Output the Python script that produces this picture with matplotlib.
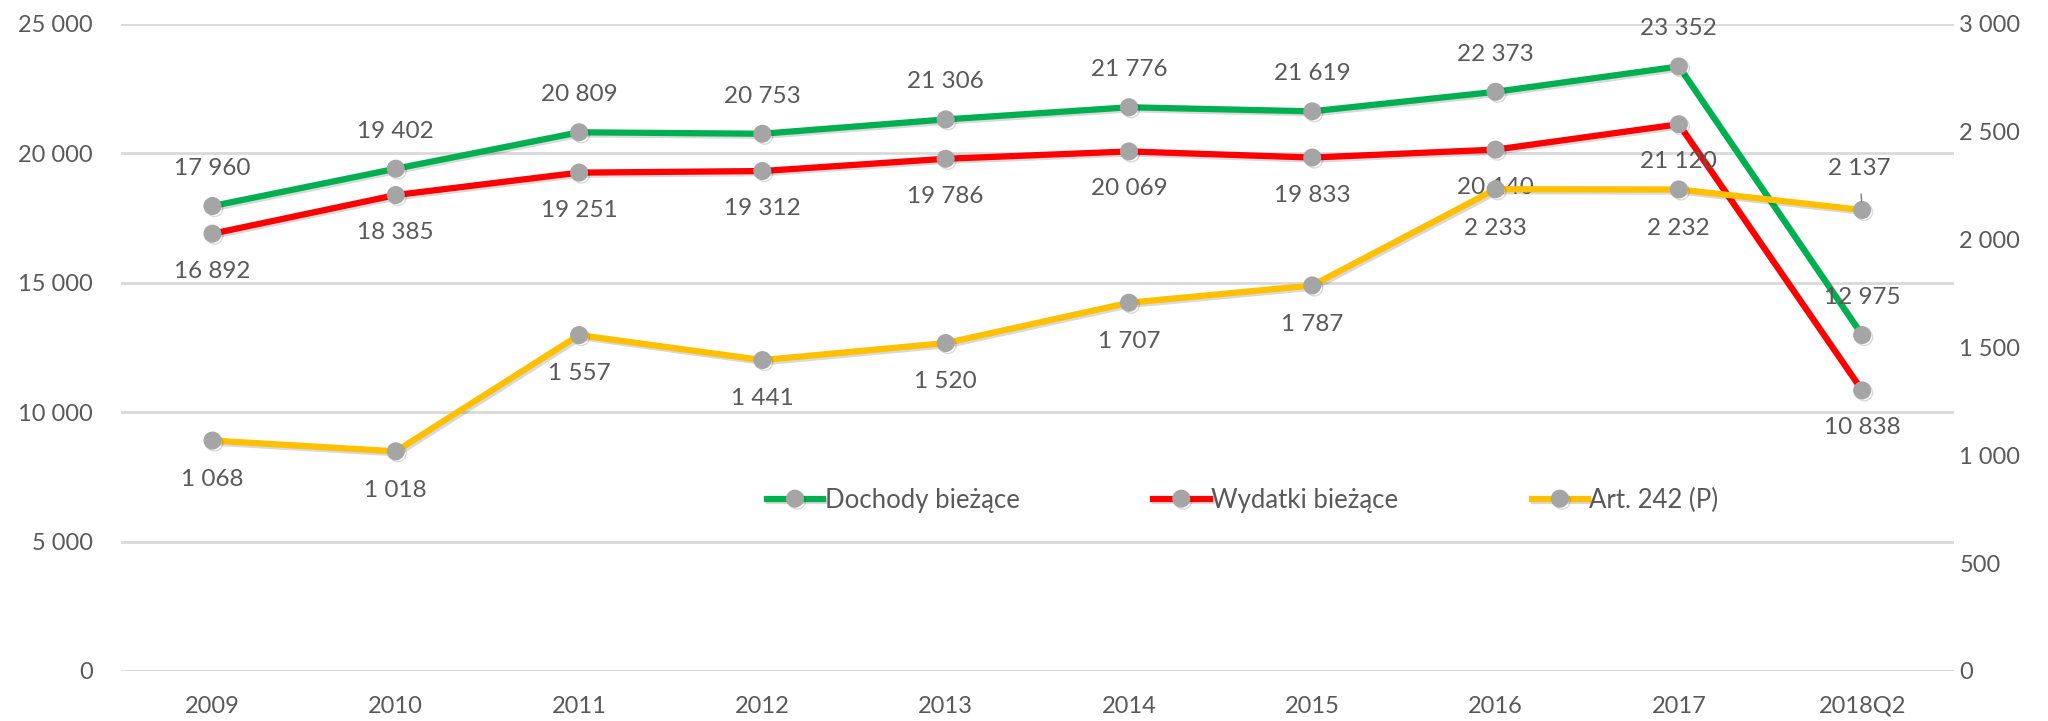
#!/usr/bin/env python3
"""Dochody i wydatki bieżące vs Art. 242 (P), 2009-2018Q2."""

import matplotlib.pyplot as plt
import matplotlib.patheffects as pe
from matplotlib.ticker import FuncFormatter, MultipleLocator

years = ["2009", "2010", "2011", "2012", "2013", "2014", "2015", "2016", "2017", "2018Q2"]
dochody = [17960, 19402, 20809, 20753, 21306, 21776, 21619, 22373, 23352, 12975]
wydatki = [16892, 18385, 19251, 19312, 19786, 20069, 19833, 20140, 21120, 10838]
art242 = [1068, 1018, 1557, 1441, 1520, 1707, 1787, 2233, 2232, 2137]

GREEN = "#00B050"
RED = "#FF0000"
YELLOW = "#FFC000"
MARKER = "#A5A5A5"
TEXT = "#595959"
GRID = "#D9D9D9"
FS = 17.5

plt.rcParams["font.family"] = ["Lato", "DejaVu Sans"]


def fmt(v, _pos=None):
    return f"{v:,.0f}".replace(",", " ")


shadow = [pe.SimpleLineShadow(offset=(1.5, -1.5), alpha=0.15, shadow_color="black"), pe.Normal()]

fig = plt.figure(figsize=(20.48, 7.21), dpi=100)
ax = fig.add_axes([0.059, 0.0694, 0.895, 0.8976])
ax2 = ax.twinx()

x = list(range(len(years)))
style = dict(linewidth=4.5, marker="o", markersize=12, markerfacecolor=MARKER,
             markeredgecolor=MARKER, solid_joinstyle="round", path_effects=shadow)
l1, = ax.plot(x, dochody, color=GREEN, label="Dochody bieżące", zorder=3, **style)
l2, = ax.plot(x, wydatki, color=RED, label="Wydatki bieżące", zorder=3, **style)
l3, = ax2.plot(x, art242, color=YELLOW, label="Art. 242 (P)", zorder=3, **style)

for i, v in enumerate(dochody):
    ax.annotate(fmt(v), (i, v), xytext=(0, 27), textcoords="offset points",
                ha="center", va="center", fontsize=FS, color=TEXT, zorder=5)
for i, v in enumerate(wydatki):
    ax.annotate(fmt(v), (i, v), xytext=(0, -27), textcoords="offset points",
                ha="center", va="center", fontsize=FS, color=TEXT, zorder=5)
for i, v in enumerate(art242):
    if i == len(art242) - 1:
        ax2.annotate(fmt(v), (i, v), xytext=(-2, 30), textcoords="offset points",
                     ha="center", va="center", fontsize=FS, color=TEXT, zorder=5,
                     arrowprops=dict(arrowstyle="-", color="#7F7F7F", lw=1,
                                     shrinkA=9, shrinkB=6))
    else:
        ax2.annotate(fmt(v), (i, v), xytext=(0, -28), textcoords="offset points",
                     ha="center", va="center", fontsize=FS, color=TEXT, zorder=5)

ax.set_xlim(-0.5, len(years) - 0.5)
ax.set_ylim(0, 25000)
ax2.set_ylim(0, 3000)
ax.yaxis.set_major_locator(MultipleLocator(5000))
ax2.yaxis.set_major_locator(MultipleLocator(500))
ax.yaxis.set_major_formatter(FuncFormatter(fmt))
ax2.yaxis.set_major_formatter(FuncFormatter(fmt))
ax.set_xticks(x)
ax.set_xticklabels(years)

ax.grid(axis="y", color=GRID, linewidth=2)
ax.set_axisbelow(True)
for a in (ax, ax2):
    for s in a.spines.values():
        s.set_visible(False)
ax.tick_params(axis="y", length=0, pad=20, labelsize=17, labelcolor=TEXT)
ax.tick_params(axis="x", length=0, pad=18, labelsize=17, labelcolor=TEXT)
ax2.tick_params(axis="y", length=0, pad=4, labelsize=17, labelcolor=TEXT)

leg = ax2.legend(handles=[l1, l2, l3], loc="center", bbox_to_anchor=(0.612, 0.264),
                 ncol=3, frameon=False, fontsize=18.5, labelcolor=TEXT,
                 handlelength=2.2, handletextpad=0.05, columnspacing=5.2)

fig.savefig("out.png", dpi=100)
